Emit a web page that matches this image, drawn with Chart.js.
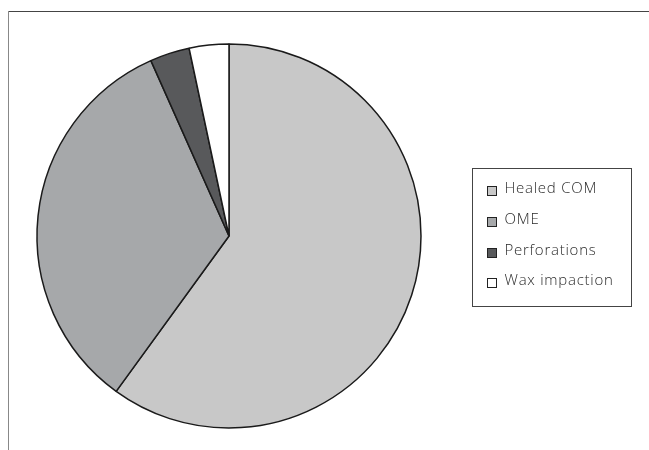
<!DOCTYPE html>
<html>
<head>
<meta charset="utf-8">
<script src="https://cdn.jsdelivr.net/npm/chart.js@4/dist/chart.umd.min.js"></script>
<style>
  html, body { margin: 0; padding: 0; background: #fff; }
  #wrap { position: relative; width: 649px; height: 450px; overflow: hidden; }
  #frameTop { position: absolute; left: 8px; top: 11px; width: 641px; height: 0; border-top: 1.5px solid #444; }
  #frameLeft { position: absolute; left: 8px; top: 11px; width: 0; height: 439px; border-left: 1.5px solid #888; }
  canvas { position: absolute; left: 0; top: 0; }
  #legend { position: absolute; left: 472px; top: 168px; width: 160px; height: 139px; border: 1px solid #444; box-sizing: border-box;
            font-family: "Open Sans", sans-serif; font-weight: 300; font-size: 15px; letter-spacing: 0.75px; color: #2a2a2a; }
  .item { position: absolute; left: 0; height: 20px; line-height: 20px; white-space: nowrap; }
  .txt { position: absolute; left: 31.5px; top: 0; }
  .sw { position: absolute; left: 14px; top: 9px; width: 10px; height: 10px; border: 1px solid #222; box-sizing: border-box; }
</style>
</head>
<body>
<div id="wrap">
  <div id="frameTop"></div>
  <div id="frameLeft"></div>
  <canvas id="c" width="649" height="450"></canvas>
  <div id="legend"></div>
</div>
<script>
const categories = ["Healed COM", "OME", "Perforations", "Wax impaction"];
const values = [18, 10, 1, 1];
const colors = ["#c8c8c8", "#a6a8aa", "#58595b", "#ffffff"];

new Chart(document.getElementById("c"), {
  type: "pie",
  data: {
    labels: categories,
    datasets: [{
      data: values,
      backgroundColor: colors,
      borderColor: "#1a1a1a",
      borderWidth: 1.5,
      borderAlign: "center"
    }]
  },
  options: {
    responsive: false,
    animation: false,
    rotation: 0,
    layout: { padding: { top: 43.25, bottom: 21.25, left: 36.25, right: 227.25 } },
    plugins: { legend: { display: false }, tooltip: { enabled: false } }
  }
});

const lg = document.getElementById("legend");
const rowTops = [8, 39, 70, 100];
categories.forEach((name, i) => {
  const d = document.createElement("div");
  d.className = "item";
  d.style.top = rowTops[i] + "px";
  const sw = document.createElement("span");
  sw.className = "sw";
  sw.style.background = colors[i];
  const t = document.createElement("span");
  t.className = "txt";
  t.textContent = name;
  d.appendChild(sw);
  d.appendChild(t);
  lg.appendChild(d);
});
</script>
</body>
</html>
